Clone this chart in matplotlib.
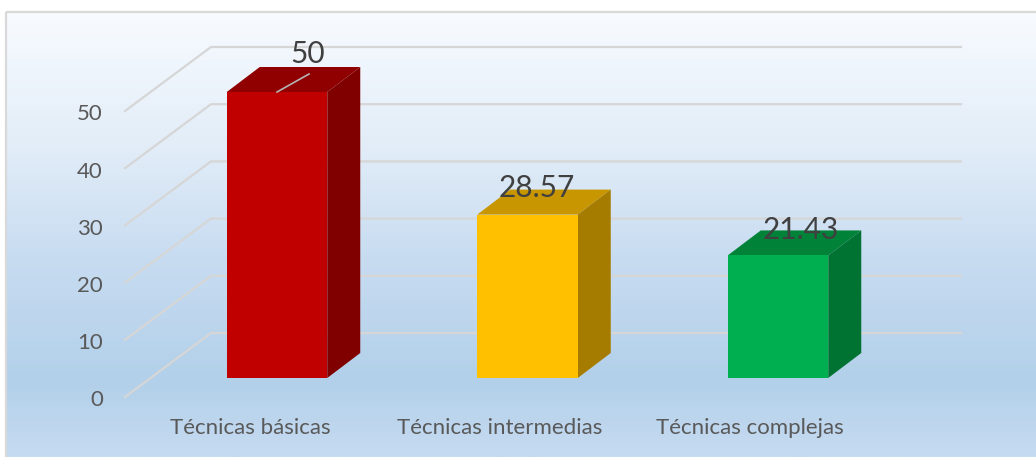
import numpy as np
from matplotlib import pyplot as plt
from matplotlib.colors import LinearSegmentedColormap
from matplotlib.patches import Polygon, Rectangle

categories = ["Técnicas básicas", "Técnicas intermedias", "Técnicas complejas"]
values = [50, 28.57, 21.43]
value_labels = ["50", "28.57", "21.43"]
ticks = [0, 10, 20, 30, 40, 50]

front_colors = ["#c00000", "#ffc000", "#00b050"]
top_colors = ["#900000", "#c89600", "#008239"]
side_colors = ["#800000", "#a67c00", "#007232"]

W, H = 1036, 457
plt.rcParams['font.family'] = ['Lato', 'DejaVu Sans']

fig = plt.figure(figsize=(W / 100, H / 100), dpi=100)
fig.patch.set_facecolor("white")

# background panel, pixel coords
bg = fig.add_axes([0, 0, 1, 1])
bg.set_xlim(0, W)
bg.set_ylim(H, 0)
bg.axis("off")
cmap = LinearSegmentedColormap.from_list("panel", [
    (0.0, "#f8fbff"), (0.30, "#e2edf8"), (0.55, "#c8dcf1"),
    (0.83, "#b2d0ea"), (1.0, "#c6dbf1")])
grad = np.linspace(0, 1, 256).reshape(-1, 1)
bg.imshow(grad, cmap=cmap, extent=[7, W, H, 12], aspect="auto", zorder=1)
bg.set_xlim(0, W)
bg.set_ylim(H, 0)
bg.add_patch(Rectangle((6, 11.5), W, H, fill=False, ec="#d9d9d9", lw=1.6, zorder=2))

# chart axes: x is category index, y is value on the plane of the bars
px_cat = 250.5
px_val = 5.72
x0_px, y0_px = 277, 378
ax = fig.add_axes([0, 0, 1, 1])
ax.patch.set_alpha(0)
ax.axis("off")
ax.set_xlim(-x0_px / px_cat, (W - x0_px) / px_cat)
ax.set_ylim((y0_px - H) / px_val, y0_px / px_val)

bar_w = 100.5 / px_cat
depth_x = 33 / px_cat
depth_y = 25 / px_val

# floor and wall lines
floor_front_x = (125 - x0_px) / px_cat
floor_back_x = (211 - x0_px) / px_cat
wall_end_x = (961 - x0_px) / px_cat
front_off = (y0_px - 397) / px_val
back_off = (y0_px - 333) / px_val
grid_c = "#d6d6d6"
for t in ticks:
    ax.plot([floor_front_x, floor_back_x, wall_end_x],
            [t + front_off, t + back_off, t + back_off],
            color=grid_c, lw=1.6, zorder=2, solid_joinstyle="miter")
    ax.text((103 - x0_px) / px_cat, t + front_off - 0.6, str(t), ha="right", va="center",
            fontsize=16, color="#595959", zorder=5)

# bars
for i, v in enumerate(values):
    l = i - bar_w / 2
    r = i + bar_w / 2
    ax.add_patch(Polygon([(l, 0), (r, 0), (r, v), (l, v)], fc=front_colors[i], ec="none", zorder=4))
    ax.add_patch(Polygon([(l, v), (r, v), (r + depth_x, v + depth_y), (l + depth_x, v + depth_y)],
                         fc=top_colors[i], ec="none", zorder=3))
    ax.add_patch(Polygon([(r, 0), (r + depth_x, depth_y), (r + depth_x, v + depth_y), (r, v)],
                         fc=side_colors[i], ec="none", zorder=3))

# leader line on first bar
ax.plot([0, 32 / px_cat], [values[0], values[0] + 18 / px_val], color="#b5b5b5", lw=1.2, zorder=5)

label_pos = [(308, 54), (537, 188), (801, 230)]
for txt, (px, py) in zip(value_labels, label_pos):
    ax.text((px - x0_px) / px_cat, (y0_px - py) / px_val, txt, ha="center", va="center",
            fontsize=21.5, color="#404040", zorder=6)

cat_px = [250.5, 500, 749.5]
for c, px in zip(categories, cat_px):
    ax.text((px - x0_px) / px_cat, (y0_px - 428) / px_val, c, ha="center", va="center",
            fontsize=16, color="#595959", zorder=6)

fig.savefig("out.png", dpi=100)
